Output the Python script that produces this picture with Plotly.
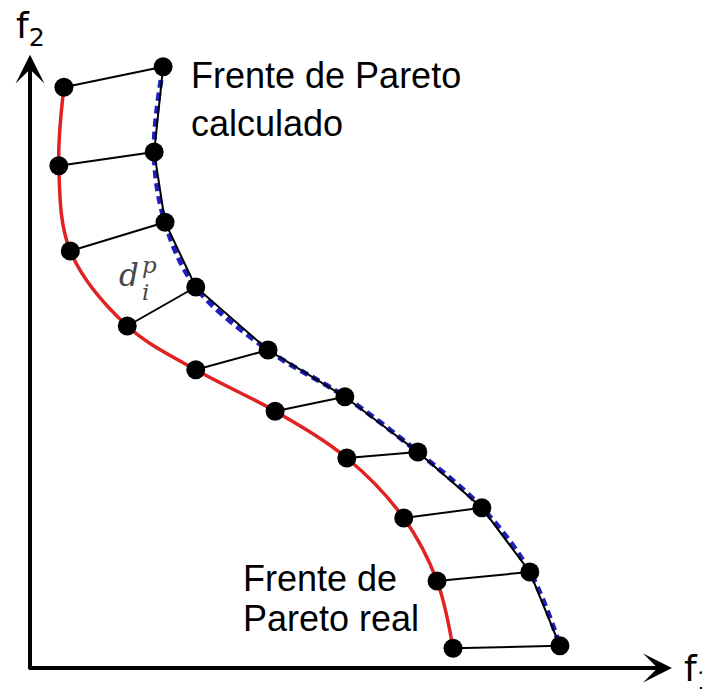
import plotly.graph_objects as go

# Frente de Pareto real (red curve)
real_f1 = [0.53, 0.45, 0.63, 1.52, 2.59, 3.83, 4.95, 5.84, 6.36, 6.61]
real_f2 = [9.68, 8.37, 6.95, 5.70, 4.97, 4.28, 3.50, 2.50, 1.45, 0.33]

# Frente de Pareto calculado (black points)
calc_f1 = [2.08, 1.94, 2.11, 2.59, 3.72, 4.92, 6.06, 7.06, 7.81, 8.28]
calc_f2 = [10.02, 8.60, 7.43, 6.35, 5.30, 4.52, 3.60, 2.67, 1.60, 0.37]

# distances d_i^p between the two fronts
seg_x = []
seg_y = []
for i in range(0, len(real_f1)):
    seg_x += [real_f1[i], calc_f1[i], None]
    seg_y += [real_f2[i], calc_f2[i], None]

fig = go.Figure()

fig.add_trace(go.Scatter(x=real_f1, y=real_f2, mode="lines",
                         line=dict(color="#e02222", width=3.5, shape="spline", smoothing=1),
                         hoverinfo="skip"))
fig.add_trace(go.Scatter(x=calc_f1, y=calc_f2, mode="lines",
                         line=dict(color="#1f1fc0", width=5, dash="8px,5px", shape="spline", smoothing=1),
                         hoverinfo="skip"))
fig.add_trace(go.Scatter(x=calc_f1, y=calc_f2, mode="lines",
                         line=dict(color="black", width=2),
                         hoverinfo="skip"))
fig.add_trace(go.Scatter(x=seg_x, y=seg_y, mode="lines",
                         line=dict(color="black", width=2),
                         hoverinfo="skip"))
fig.add_trace(go.Scatter(x=real_f1 + calc_f1, y=real_f2 + calc_f2, mode="markers",
                         marker=dict(color="black", size=19),
                         hoverinfo="skip"))

# axis arrows
fig.add_annotation(x=10.03, y=0, ax=-0.04, ay=0, xref="x", yref="y", axref="x", ayref="y",
                   text="", showarrow=True, arrowhead=3, arrowwidth=4, arrowsize=1.2,
                   arrowcolor="black", standoff=0)
fig.add_annotation(x=0, y=10.22, ax=0, ay=-0.04, xref="x", yref="y", axref="x", ayref="y",
                   text="", showarrow=True, arrowhead=3, arrowwidth=4, arrowsize=1.2,
                   arrowcolor="black", standoff=0)

sans = "Liberation Sans, Arial, sans-serif"
fig.add_annotation(x=-0.25, y=10.66, text="f<sub>2</sub>", showarrow=False, xanchor="left",
                   font=dict(family="DejaVu Sans", size=36, color="black"))
fig.add_annotation(x=10.19, y=-0.05, text="f<sub>1</sub>", showarrow=False, xanchor="left",
                   font=dict(family="DejaVu Sans", size=36, color="black"))

fig.add_annotation(x=2.49, y=9.87, text="Frente de Pareto", showarrow=False, xanchor="left",
                   font=dict(family=sans, size=36, color="black"))
fig.add_annotation(x=2.49, y=9.07, text="calculado", showarrow=False, xanchor="left",
                   font=dict(family=sans, size=36, color="black"))
fig.add_annotation(x=3.30, y=1.50, text="Frente de", showarrow=False, xanchor="left",
                   font=dict(family=sans, size=36, color="black"))
fig.add_annotation(x=3.30, y=0.82, text="Pareto real", showarrow=False, xanchor="left",
                   font=dict(family=sans, size=36, color="black"))

serif = "DejaVu Serif, serif"
fig.add_annotation(x=1.55, y=6.55, text="<i>d</i>", showarrow=False,
                   font=dict(family=serif, size=31, color="#484848"))
fig.add_annotation(x=1.86, y=6.72, text="<i>p</i>", showarrow=False,
                   font=dict(family=serif, size=23, color="#484848"))
fig.add_annotation(x=1.81, y=6.27, text="<i>i</i>", showarrow=False,
                   font=dict(family=serif, size=23, color="#484848"))

# the page body adds an 8px margin, so the figure is 8px smaller and the ranges start 8px in
fig.update_xaxes(range=[(8 - 30) / 64, 680 / 64], visible=False)
fig.update_yaxes(range=[-23 / 60, (668 - 8) / 60], visible=False)
fig.update_layout(width=702, height=683, margin=dict(l=0, r=0, t=0, b=0),
                  plot_bgcolor="white", paper_bgcolor="white", showlegend=False)

fig.write_html("out.html")
